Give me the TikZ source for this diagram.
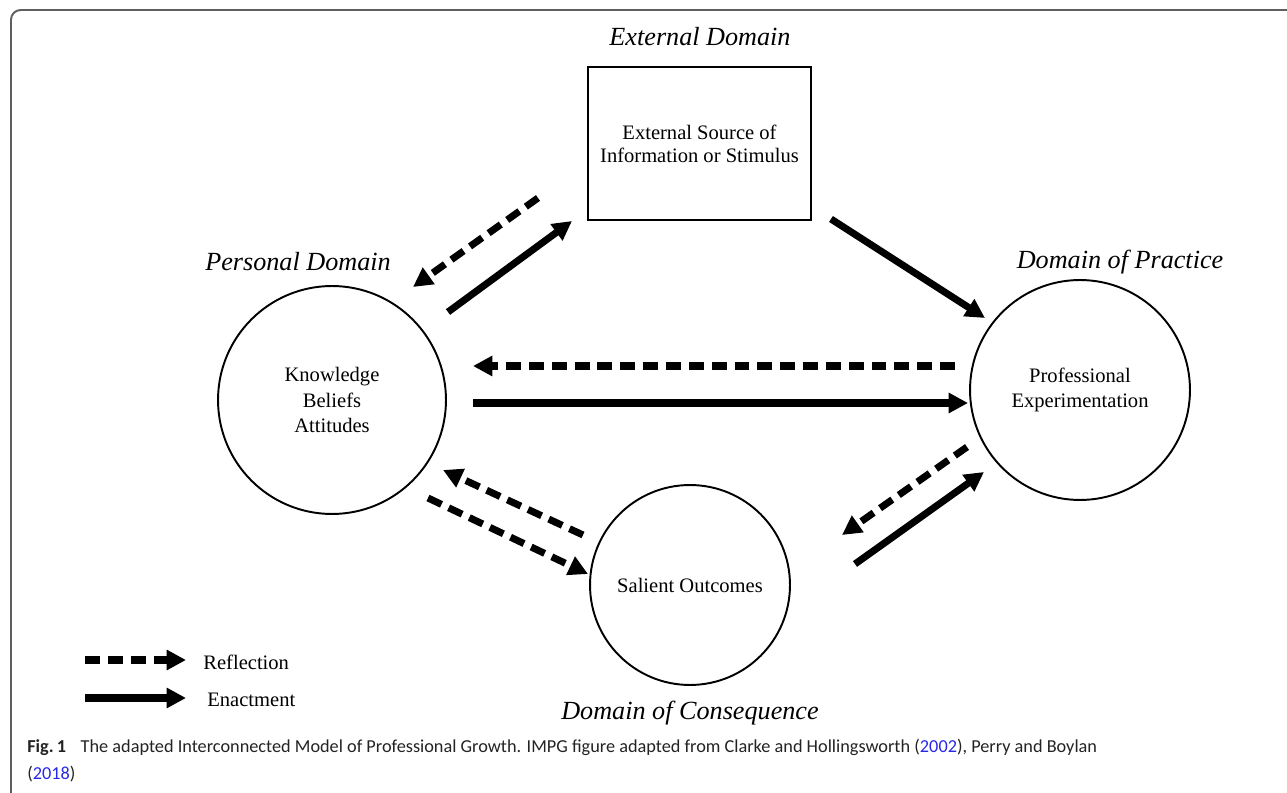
\documentclass[tikz,border=0pt]{standalone}
\usepackage{fontspec}
\setmainfont{Liberation Serif}
\newfontfamily\capfont{Carlito}
\usetikzlibrary{arrows.meta}
\definecolor{citeblue}{RGB}{40,40,230}
\definecolor{framegray}{RGB}{95,95,95}
\definecolor{captext}{RGB}{35,35,35}
\begin{document}
\begin{tikzpicture}[x=0.02cm,y=-0.02cm,
  domainlbl/.style={font=\fontsize{14.9}{17}\selectfont\itshape, inner sep=0},
  innertxt/.style={font=\fontsize{11.7}{13.2}\selectfont, align=center, inner sep=0},
  circnode/.style={circle, draw, line width=1.1pt, inner sep=0, font=\fontsize{11.7}{14.6}\selectfont, align=center},
  enact/.style={line width=4pt, -{Triangle[length=11pt,width=11pt]}},
  reflect/.style={enact, dash pattern=on 8.5pt off 4.5pt},
  legendtxt/.style={font=\fontsize{11.7}{13.2}\selectfont, anchor=west, inner sep=0},
]
\useasboundingbox (0,0) rectangle (1287,793);
% frame
\draw[line width=1.1pt, framegray, rounded corners=5.5pt] (11,800) -- (11,10) -- (1300,10);

% nodes
\node[draw, line width=1.1pt, minimum width=4.46cm, minimum height=3.06cm, innertxt] (ext) at (699.5,143.5) {External Source of\\Information or Stimulus};
\node[circnode, minimum size=4.56cm] (pers) at (332,400) {Knowledge\\Beliefs\\Attitudes};
\node[circnode, minimum size=4.4cm] (prac) at (1080,390) {Professional\\Experimentation};
\node[circnode, minimum size=4.0cm] (cons) at (690,585) {Salient Outcomes};

% domain labels
\node[domainlbl] (extlbl) at (700,37) {External Domain};
\node[domainlbl] (perslbl) at (298,262) {Personal Domain};
\node[domainlbl] (praclbl) at (1120,262) {Domain of Practice};
\node[domainlbl] (conslbl) at (690,713) {Domain of Consequence};

% arrow end points
\coordinate (a1s) at (538,198); \coordinate (a1e) at (413,287);
\coordinate (a2s) at (448,312); \coordinate (a2e) at (572,221);
\coordinate (a3s) at (831,219); \coordinate (a3e) at (985,318);
\coordinate (a4s) at (955,366); \coordinate (a4e) at (473,366);
\coordinate (a5s) at (473,403); \coordinate (a5e) at (968,403);
\coordinate (a6s) at (583,535); \coordinate (a6e) at (443,470);
\coordinate (a7s) at (428,498); \coordinate (a7e) at (588,574);
\coordinate (a8s) at (967,447); \coordinate (a8e) at (842,535);
\coordinate (a9s) at (855,564); \coordinate (a9e) at (984,472);

\draw[reflect] (a1s) -- (a1e);
\draw[enact] (a2s) -- (a2e);
\draw[enact] (a3s) -- (a3e);
\draw[reflect] (a4s) -- (a4e);
\draw[enact] (a5s) -- (a5e);
\draw[reflect] (a6s) -- (a6e);
\draw[reflect] (a7s) -- (a7e);
\draw[reflect] (a8s) -- (a8e);
\draw[enact] (a9s) -- (a9e);

% legend
\coordinate (l1s) at (85,660); \coordinate (l1e) at (186,660);
\coordinate (l2s) at (85,698); \coordinate (l2e) at (186,698);
\draw[reflect] (l1s) -- (l1e);
\draw[enact] (l2s) -- (l2e);
\node[legendtxt] (reflbl) at (203,662) {Reflection};
\node[legendtxt] (enalbl) at (207,700) {Enactment};

% caption
\node[anchor=north west, inner sep=0, align=left, text=captext, font=\capfont\fontsize{10.4}{15.3}\selectfont] (cap) at (27,739)
{{\bfseries Fig.\,1}\hspace{0.8em}The adapted Interconnected Model of Professional Growth. IMPG figure adapted from Clarke and Hollingsworth (\textcolor{citeblue}{2002}), Perry and Boylan\\(\textcolor{citeblue}{2018})};
\end{tikzpicture}
\end{document}
